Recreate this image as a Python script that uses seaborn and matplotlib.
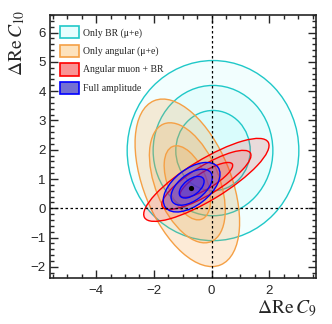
import numpy as np
import pandas as pd
import matplotlib
matplotlib.use("Agg")
import matplotlib.pyplot as plt
from matplotlib.patches import Ellipse, Patch
from matplotlib.ticker import MultipleLocator
import seaborn as sns

# ---- data ----
fit_labels = ["Only BR (\u03bc+e)", "Only angular (\u03bc+e)", "Angular muon + BR", "Full amplitude"]
center_c9 = [0.05, -0.84, -0.18, -0.69]
center_c10 = [1.97, 0.87, 0.97, 0.72]
# full widths / heights of the 1,2,3 sigma contours and tilt angle (deg)
br_widths = [2.58, 4.15, 5.95]
br_heights = [2.74, 4.45, 6.15]
br_angle = 0.0
ang_widths = [2.68, 4.34, 6.06]
ang_heights = [1.34, 2.21, 3.02]
ang_angle = 112.4
mix_widths = [2.10, 3.56, 5.00]
mix_heights = [0.58, 0.98, 1.38]
mix_angle = 31.0
full_widths = [1.00, 1.66, 2.28]
full_heights = [0.54, 0.90, 1.24]
full_angle = 37.0
best_fit_c9 = [-0.70]
best_fit_c10 = [0.70]

edge_colors = ["#20c8c8", "#f5a045", "#ff0000", "#0000ff"]
fill_colors = ["#00f0f0", "#f89c3a", "#ff2a2a", "#2020ff"]
fill_alpha = [0.05, 0.20, 0.16, 0.27]
legend_fill = ["#e6fefe", "#fde2bd", "#f99494", "#7470d2"]

sns.set_style("ticks")
plt.rcParams["font.family"] = ["Liberation Sans", "DejaVu Sans"]
plt.rcParams["mathtext.fontset"] = "stix"

fig = plt.figure(figsize=(3.32, 3.24), dpi=100)
ax = fig.add_axes([50 / 332, 1 - 278 / 324, 266 / 332, 263 / 324])

sets = [
    (br_widths, br_heights, br_angle),
    (ang_widths, ang_heights, ang_angle),
    (mix_widths, mix_heights, mix_angle),
    (full_widths, full_heights, full_angle),
]
z = 2
for i, (ws, hs, ang) in enumerate(sets):
    for w, h in zip(ws[::-1], hs[::-1]):
        e = Ellipse((center_c9[i], center_c10[i]), w, h, angle=ang,
                    facecolor=fill_colors[i], alpha=fill_alpha[i], edgecolor="none", zorder=z)
        ax.add_patch(e)
        z += 0.01
    for w, h in zip(ws[::-1], hs[::-1]):
        e = Ellipse((center_c9[i], center_c10[i]), w, h, angle=ang,
                    facecolor="none", edgecolor=edge_colors[i], lw=1.0, zorder=z)
        ax.add_patch(e)
        z += 0.01

ax.axvline(0, color="black", lw=0.9, ls=(0, (2, 2)), zorder=10)
ax.axhline(0, color="black", lw=0.9, ls=(0, (2, 2)), zorder=10)

df = pd.DataFrame({"c9": best_fit_c9, "c10": best_fit_c10})
sns.scatterplot(data=df, x="c9", y="c10", ax=ax, color="black", s=14, linewidth=0, zorder=12)

ax.set_xlim(-5.6, 3.62)
ax.set_ylim(-2.38, 6.6)
ax.set_xlabel("")
ax.set_ylabel("")
ax.xaxis.set_major_locator(MultipleLocator(2))
ax.xaxis.set_minor_locator(MultipleLocator(0.5))
ax.yaxis.set_major_locator(MultipleLocator(1))
ax.yaxis.set_minor_locator(MultipleLocator(0.2))
ax.tick_params(which="both", direction="in", top=True, right=True, width=1.0, labelsize=9.5)
ax.tick_params(which="major", length=6)
ax.tick_params(which="minor", length=3)
ax.tick_params(axis="x", pad=5)
ax.tick_params(axis="y", pad=3)
for s in ax.spines.values():
    s.set_linewidth(1.2)
ax.set_xticklabels([f"{int(t)}".replace("-", "\u2212") for t in ax.get_xticks()])

handles = [Patch(facecolor=legend_fill[i], edgecolor=edge_colors[i], lw=1.2) for i in range(4)]
leg = ax.legend(handles, fit_labels, loc="upper left", bbox_to_anchor=(10 / 266, 1 - 11 / 263),
                frameon=False, borderpad=0, borderaxespad=0, handlelength=1.95, handleheight=1.6,
                labelspacing=0.62, handletextpad=0.45,
                prop={"family": ["Liberation Serif", "DejaVu Serif"], "size": 7})
leg.set_zorder(20)

fig.text(316 / 332, 1 - 309 / 324, r"$\Delta\mathrm{Re}\,C_9$", ha="right", va="center", fontsize=14)
fig.text(17 / 332, 1 - 10 / 324, r"$\Delta\mathrm{Re}\,C_{10}$", ha="center", va="top", rotation=90, fontsize=14)

fig.savefig("out.png", dpi=100)
